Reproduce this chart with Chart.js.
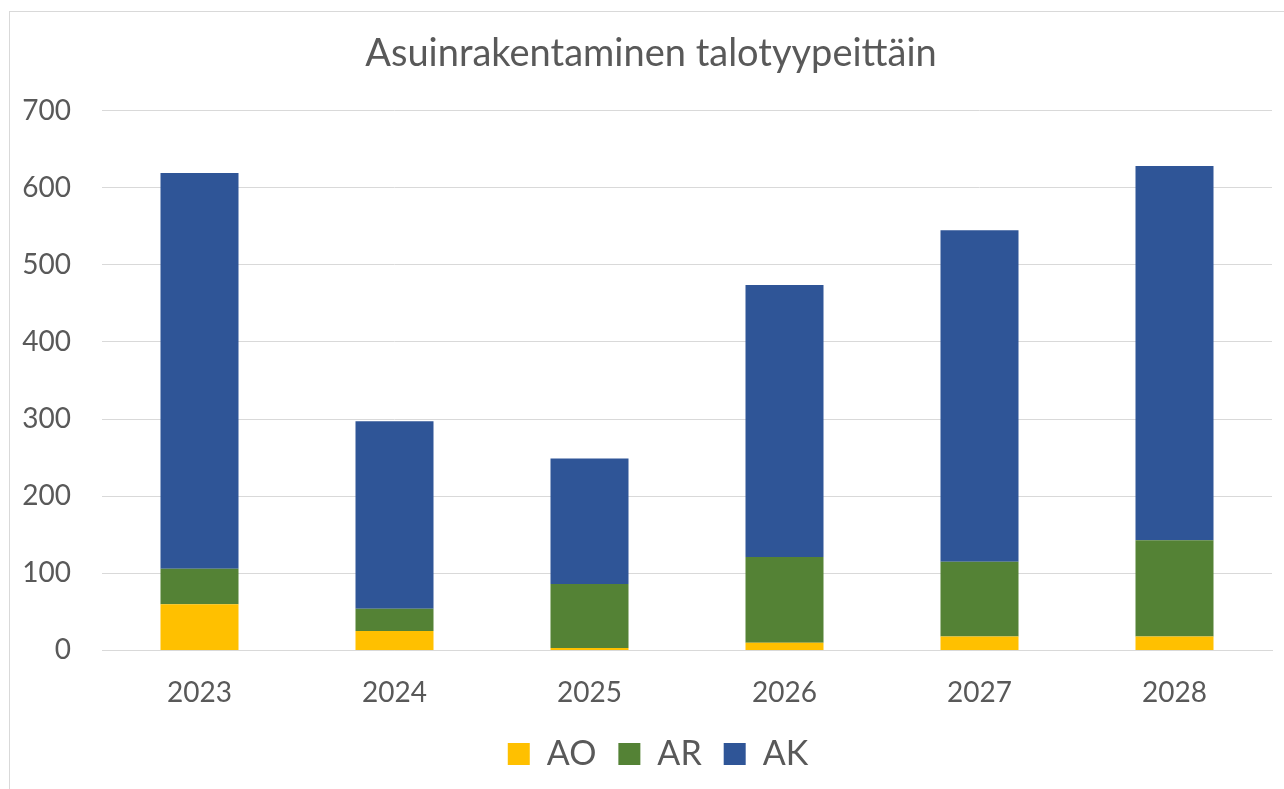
<!DOCTYPE html>
<html>
<head>
<meta charset="utf-8">
<script src="https://cdn.jsdelivr.net/npm/chart.js"></script>
<style>
  html, body { margin: 0; padding: 0; background: #fff; overflow: hidden; }
  #wrap { position: absolute; left: 0; top: 0; width: 1284px; height: 789px; }
  #frame { position: absolute; left: 9px; top: 11px; width: 1300px; height: 800px; border: 1px solid #d9d9d9; pointer-events: none; }
</style>
</head>
<body>
<div id="wrap"><canvas id="chart" width="1284" height="789"></canvas></div>
<div id="frame"></div>
<script>
// years on the x axis
const years = ['2023', '2024', '2025', '2026', '2027', '2028'];

// stacked series
const ao = [60, 25, 3, 10, 18, 18];
const ar = [46, 29, 83, 111, 97, 125];
const ak = [513, 243, 163, 353, 430, 485];

const yTicks = [0, 100, 200, 300, 400, 500, 600, 700];

const textColor = '#595959';
const gridColor = '#d9d9d9';
const fontFamily = 'Lato, "Open Sans", sans-serif';

// the original chart is a bit wider than the window, so title and legend sit right of centre
const nudge = {
  id: 'nudge',
  afterLayout(chart) {
    const t = chart.titleBlock;
    t.left += 15; t.right += 15;
    const l = chart.legend;
    l.left += 22; l.right += 22;
    l.top -= 13; l.bottom -= 13;
  }
};

new Chart(document.getElementById('chart'), {
  type: 'bar',
  data: {
    labels: years,
    datasets: [
      { label: 'AO', data: ao, backgroundColor: '#ffc000' },
      { label: 'AR', data: ar, backgroundColor: '#548235' },
      { label: 'AK', data: ak, backgroundColor: '#2f5597' }
    ]
  },
  options: {
    responsive: false,
    animation: false,
    layout: { padding: { left: 0, right: 12, top: 31, bottom: -5 } },
    datasets: {
      bar: { barPercentage: 0.4, categoryPercentage: 1.0 }
    },
    scales: {
      x: {
        stacked: true,
        grid: { display: false },
        border: { color: gridColor },
        ticks: { color: textColor, font: { family: fontFamily, size: 28 }, padding: 18 }
      },
      y: {
        stacked: true,
        min: 0,
        max: yTicks[yTicks.length - 1],
        afterBuildTicks: (axis) => { axis.ticks = yTicks.map(v => ({ value: v })); },
        afterFit: (axis) => { axis.width = 102; },
        grid: { color: gridColor, drawTicks: false },
        border: { display: false },
        ticks: { color: textColor, font: { family: fontFamily, size: 28 }, padding: 31 }
      }
    },
    plugins: {
      title: {
        display: true,
        text: 'Asuinrakentaminen talotyypeittäin',
        color: textColor,
        font: { family: fontFamily, size: 38, weight: 'normal' },
        padding: { top: 0, bottom: 34 }
      },
      legend: {
        position: 'bottom',
        labels: {
          color: textColor,
          font: { family: fontFamily, size: 34 },
          boxWidth: 22,
          boxHeight: 22,
          padding: 22
        }
      },
      tooltip: { enabled: false }
    }
  },
  plugins: [nudge]
});
</script>
</body>
</html>
